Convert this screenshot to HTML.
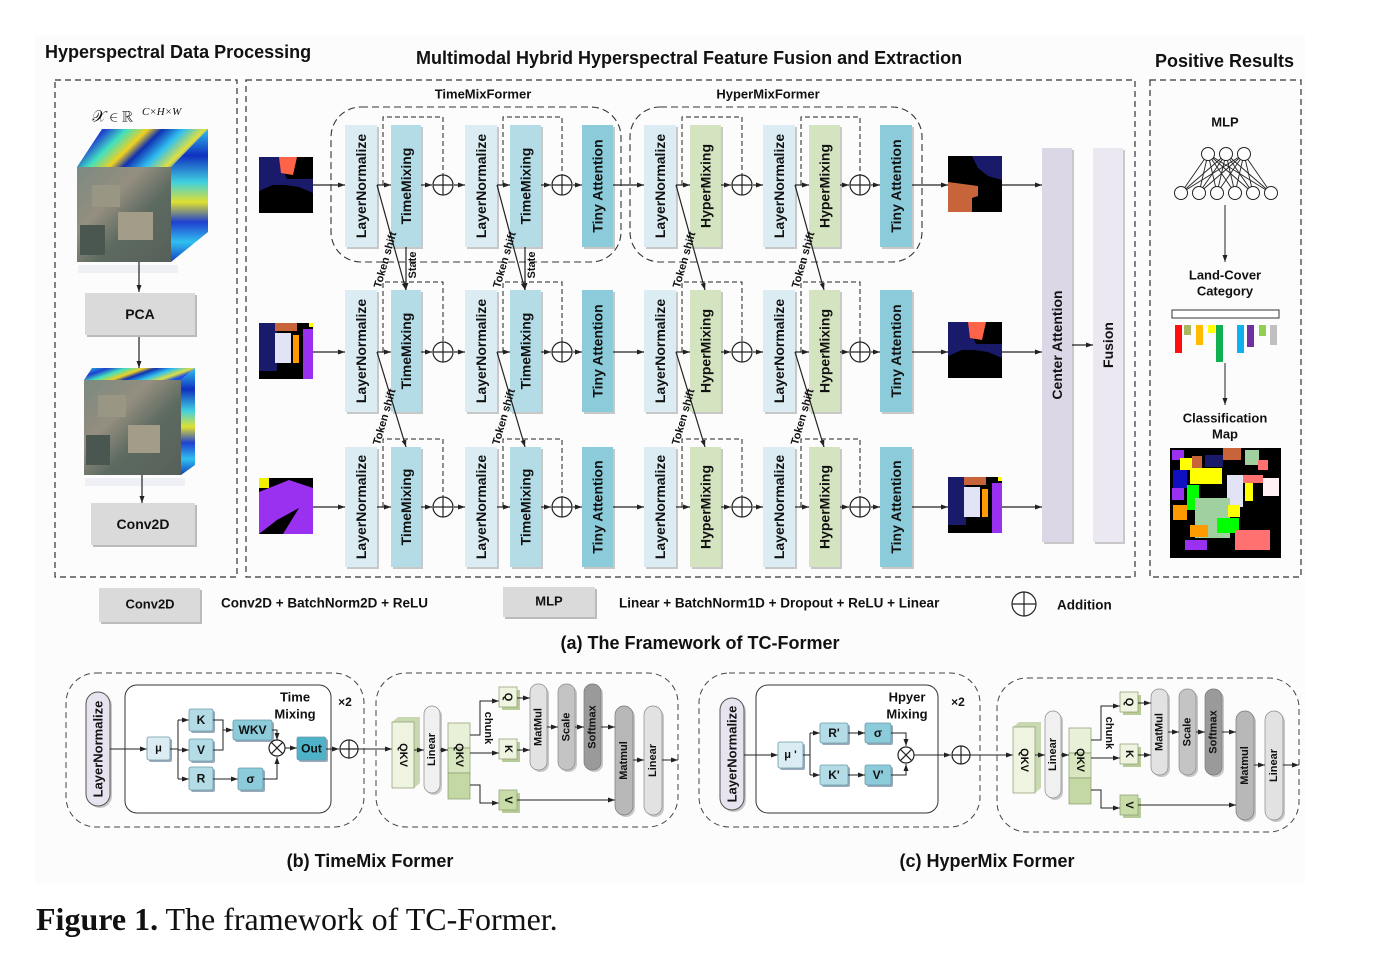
<!DOCTYPE html>
<html><head><meta charset="utf-8"><style>
html,body{margin:0;padding:0;background:#fff}
svg{display:block}
text{font-family:"Liberation Sans",Arial,sans-serif;fill:#111}
text.serif{font-family:"Liberation Serif",serif}
</style></head><body>
<svg id="s" width="1391" height="968" viewBox="0 0 1391 968" xmlns="http://www.w3.org/2000/svg">
<defs>
<marker id="ar" markerWidth="8" markerHeight="8" refX="7" refY="4" orient="auto" markerUnits="userSpaceOnUse"><path d="M0,1.5 L7,4 L0,6.5 z" fill="#222"/></marker>
<linearGradient id="rain" x1="0" y1="0" x2="1" y2="0.3">
<stop offset="0" stop-color="#1fd0e0"/><stop offset="0.2" stop-color="#2040d0"/><stop offset="0.35" stop-color="#40e0c0"/><stop offset="0.5" stop-color="#f0d020"/><stop offset="0.6" stop-color="#1030b0"/><stop offset="0.75" stop-color="#30c0f0"/><stop offset="0.9" stop-color="#e0e040"/><stop offset="1" stop-color="#2050e0"/></linearGradient>
<linearGradient id="rain2" x1="0" y1="0" x2="0" y2="1">
<stop offset="0" stop-color="#30c0f0"/><stop offset="0.2" stop-color="#1030c0"/><stop offset="0.4" stop-color="#40d0e0"/><stop offset="0.55" stop-color="#e0e030"/><stop offset="0.7" stop-color="#2040d0"/><stop offset="0.85" stop-color="#30c0f0"/><stop offset="1" stop-color="#1040c0"/></linearGradient>
<linearGradient id="sat" x1="0" y1="0" x2="1" y2="1">
<stop offset="0" stop-color="#7c8a80"/><stop offset="0.35" stop-color="#948e80"/><stop offset="0.6" stop-color="#5d6a60"/><stop offset="1" stop-color="#56605a"/></linearGradient>
</defs>
<rect x="0" y="0" width="1391" height="968" fill="#fff"/>
<rect x="35" y="35" width="1270" height="848" fill="#fcfcfc"/>
</svg>
<script>
const S=document.getElementById('s');
const NS='http://www.w3.org/2000/svg';
function mk(tag,attrs,name,parent){const e=document.createElementNS(NS,tag);for(const k in attrs)e.setAttribute(k,attrs[k]);


(parent||S).appendChild(e);return e;}
function R(x,y,w,h,fill,name,o){o=o||{};return mk('rect',{x:x,y:y,width:w,height:h,fill:fill,rx:o.rx||0,stroke:o.stroke||'none','stroke-width':o.sw||1,'stroke-dasharray':o.dash||''},name);}
function T(x,y,t,size,name,o){o=o||{};const a={x:x,y:y,'font-size':size,'font-weight':o.w||'bold','text-anchor':o.a||'middle','dominant-baseline':'central'};
if(o.rot)a.transform='rotate('+o.rot+' '+x+' '+y+')';if(o.cls)a['class']=o.cls;if(o.style)a['font-style']=o.style;
const e=mk('text',a,name);e.textContent=t;return e;}
function L(pts,name,o){o=o||{};const a={points:pts.map(p=>p.join(',')).join(' '),fill:'none',stroke:o.c||'#222','stroke-width':o.sw||1.2};
if(o.dash)a['stroke-dasharray']=o.dash;if(o.arrow)a['marker-end']='url(#ar)';return mk('polyline',a,name);}
function P(d,fill,name,o){o=o||{};return mk('path',{d:d,fill:fill,stroke:o.stroke||'none','stroke-width':o.sw||1},name);}
function plus(cx,cy,r,name){mk('circle',{cx:cx,cy:cy,r:r,fill:'#fff',stroke:'#222','stroke-width':1.2},name);
L([[cx-r,cy],[cx+r,cy]],name+'-h');L([[cx,cy-r],[cx,cy+r]],name+'-v');}
function times(cx,cy,r,name){mk('circle',{cx:cx,cy:cy,r:r,fill:'#fff',stroke:'#222','stroke-width':1.2},name);
const d=r*0.707;L([[cx-d,cy-d],[cx+d,cy+d]],name+'-a');L([[cx-d,cy+d],[cx+d,cy-d]],name+'-b');}
function vblock(x,y,w,h,fill,label,name,fs,o){o=o||{};R(x+2,y+2,w,h,'#c8c8c8',name+'-shadow',{rx:o.rx||0});R(x,y,w,h,fill,name,{rx:o.rx||0,stroke:o.stroke,sw:o.sw});
T(x+w/2,y+h/2,label,fs||14,name+'-label',{rot:-90});}
function box(x,y,w,h,fill,label,name,fs){R(x+2,y+2,w,h,'#9ab',name+'-shadow',{rx:2});R(x,y,w,h,fill,name,{rx:2,stroke:'#6a9aa8',sw:0.8});T(x+w/2,y+h/2,label,fs||12,name+'-label');}

/* ---------- Titles ---------- */
T(45,52,'Hyperspectral Data Processing',18,'left-section-title',{a:'start'});
T(416,58,'Multimodal Hybrid Hyperspectral Feature Fusion and Extraction',18,'middle-section-title',{a:'start'});
T(1155,61,'Positive Results',18,'right-section-title',{a:'start'});

/* ---------- Dashed panels ---------- */
R(55,80,182,497,'none','left-panel-border',{stroke:'#333',sw:1.2,dash:'6,4'});
R(246,80,889,497,'none','middle-panel-border',{stroke:'#333',sw:1.2,dash:'6,4'});
R(1150,80,151,497,'none','right-panel-border',{stroke:'#333',sw:1.2,dash:'6,4'});

/* ---------- Left panel: cubes ---------- */
T(92,117,'𝒳 ∈ ℝ',16,'input-formula',{w:'normal',cls:'serif',a:'start'});
T(142,112,'C×H×W',11,'input-formula-exponent',{w:'normal',cls:'serif',style:'italic',a:'start'});
P('M77,167 L102,129 L208,129 L171,167 Z','url(#rain)','cube1-top');
P('M171,167 L208,129 L208,232 L171,262 Z','url(#rain2)','cube1-side');
R(77,167,94,95,'url(#sat)','cube1-front');
R(92,185,28,22,'#9a9684','cube1-field-a');R(118,212,35,28,'#a29c88','cube1-field-b');R(80,225,25,30,'#4a5650','cube1-field-c');
R(78,265,100,8,'#eef0f6','cube1-shadow');
L([[139,262],[139,292]],'arrow-cube1-pca',{arrow:true});
R(87,295,110,42,'#bbb','pca-shadow');R(85,293,110,42,'#dadada','pca-box');T(140,314,'PCA',14,'pca-label');
L([[139,337],[139,368]],'arrow-pca-cube2',{arrow:true});
P('M84,380 L92,368 L195,368 L181,380 Z','url(#rain)','cube2-top');
P('M181,380 L195,368 L195,465 L181,475 Z','url(#rain2)','cube2-side');
R(84,380,97,95,'url(#sat)','cube2-front');
R(98,395,28,22,'#9a9684','cube2-field-a');R(128,425,32,28,'#a29c88','cube2-field-b');R(86,435,24,30,'#4a5650','cube2-field-c');
R(85,478,100,8,'#eef0f6','cube2-shadow');
L([[142,475],[142,503]],'arrow-cube2-conv',{arrow:true});
R(93,505,104,42,'#bbb','conv2d-shadow');R(91,503,104,42,'#dadada','conv2d-box');T(143,524,'Conv2D',14,'conv2d-label');

/* ---------- Middle panel ---------- */
T(483,94,'TimeMixFormer',13,'timemixformer-title');
T(768,94,'HyperMixFormer',13,'hypermixformer-title');
R(331,107,290,155,'none','timemix-group-border',{rx:30,stroke:'#333',sw:1.1,dash:'7,4'});
R(630,107,292,155,'none','hypermix-group-border',{rx:30,stroke:'#333',sw:1.1,dash:'7,4'});

const rowTops=[125,290,447];
const rowH=[122,122,120];
const rowCy=[185,352,507];
const blockCols=[
 {x:345,w:32,c:'#dbedf3',t:'LayerNormalize',n:'layernorm-1'},
 {x:391,w:30,c:'#b4dce7',t:'TimeMixing',n:'timemixing-1'},
 {x:465,w:32,c:'#dbedf3',t:'LayerNormalize',n:'layernorm-2'},
 {x:510,w:31,c:'#b4dce7',t:'TimeMixing',n:'timemixing-2'},
 {x:582,w:31,c:'#8ccbd9',t:'Tiny Attention',n:'tiny-attention-1'},
 {x:644,w:32,c:'#dbedf3',t:'LayerNormalize',n:'layernorm-3'},
 {x:690,w:31,c:'#d4e4c0',t:'HyperMixing',n:'hypermixing-1'},
 {x:763,w:32,c:'#dbedf3',t:'LayerNormalize',n:'layernorm-4'},
 {x:809,w:31,c:'#d4e4c0',t:'HyperMixing',n:'hypermixing-2'},
 {x:880,w:32,c:'#8ccbd9',t:'Tiny Attention',n:'tiny-attention-2'}];
const plusX=[443,562,742,860];

function img(x,y,type,name){
 R(x,y,54,56,'#000',name);
 if(type==='A'){P(`M${x},${y} L${x+28},${y} L${x+24},${y+12} L${x+28},${y+22} L${x+54},${y+22} L${x+54},${y+36} L${x+40},${y+30} L${x+26},${y+28} L${x+14},${y+28} L${x},${y+34} Z`,'#1a1a6a',name+'-navy');
  P(`M${x+20},${y} L${x+38},${y} L${x+34},${y+18} L${x+22},${y+16} Z`,'#ff6448',name+'-orange');}
 if(type==='B'){R(x,y,18,48,'#1a1a6a',name+'-navy');R(x+16,y,22,8,'#c8643a',name+'-brown');R(x+16,y+10,16,30,'#e2e4f6',name+'-lavender');R(x+34,y+12,6,28,'#ff9a00',name+'-orange');R(x+44,y+6,10,50,'#9a30f0',name+'-purple');R(x+50,y,4,4,'#ff0',name+'-yellow');}
 if(type==='C'){P(`M${x},${y+14} L${x+30},${y+2} L${x+54},${y+10} L${x+54},${y+56} L${x+24},${y+56} L${x+40},${y+30} L${x+18},${y+42} L${x},${y+56} Z`,'#9a30f0',name+'-purple');R(x,y,10,10,'#f0f000',name+'-yellow');}
 if(type==='D'){P(`M${x+24},${y} L${x+54},${y} L${x+54},${y+24} L${x+40},${y+20} L${x+30},${y+12} Z`,'#1a1a6a',name+'-navy');P(`M${x},${y+26} L${x+30},${y+30} L${x+30},${y+40} L${x+24},${y+42} L${x+24},${y+56} L${x},${y+56} Z`,'#c8643a',name+'-brown');}
}
const inTypes=['A','B','C'],outTypes=['D','A','B'];
const imgTops=[157,323,478];
for(let r=0;r<3;r++){
 const cy=rowCy[r],top=rowTops[r],h=rowH[r];
 img(259,imgTops[r],inTypes[r],'input-patch-row'+(r+1));
 img(948,imgTops[r]-1,outTypes[r],'output-patch-row'+(r+1));
 L([[313,cy],[345,cy]],'flow-in-row'+(r+1),{arrow:true});
 const skips=[[383,443],[503,562],[682,742],[801,860]];
 skips.forEach((s,i)=>{L([[s[0],cy],[s[0],top-8],[s[1],top-8],[s[1],cy-10]],'residual-skip-row'+(r+1)+'-'+(i+1),{dash:'5,3',sw:1});});
 blockCols.forEach(b=>{vblock(b.x,top,b.w,h,b.c,b.t,b.n+'-row'+(r+1),14);});
 const seq=[[377,391],[421,432],[454,465],[497,510],[541,551],[573,582],[613,644],[676,690],[721,731],[753,763],[795,809],[840,849],[871,880],[912,948],[1002,1042]];
 seq.forEach((s,i)=>L([[s[0],cy],[s[1],cy]],'flow-row'+(r+1)+'-'+(i+1),{arrow:true}));
 plusX.forEach((px,i)=>plus(px,cy,10,'addition-row'+(r+1)+'-'+(i+1)));
 if(r<2){
  const nt=rowTops[r+1];
  [[377,406],[497,525],[676,705],[795,824]].forEach((p,i)=>{
   L([[p[0],cy],[p[1],nt]],'token-shift-arrow-row'+(r+1)+'-'+(i+1),{arrow:true});
   const yy=nt-30;const lx=p[0]+(p[1]-p[0])*(yy-cy)/(nt-cy);
   T(lx-12,yy,'Token shift',11,'token-shift-label-row'+(r+1)+'-'+(i+1),{rot:-74});
  });
  if(r===0){[[406],[525]].forEach((p,i)=>{L([[p[0],top+h],[p[0],nt]],'state-arrow-'+(i+1),{arrow:true});T(p[0]+7,top+h+18,'State',11,'state-label-'+(i+1),{rot:-90});});}
 }
}
vblock(1042,148,30,394,'#dcd7e7','Center Attention',"center-attention",14);
vblock(1093,148,30,394,'#ebe8f1','Fusion',"fusion",14);
L([[1072,345],[1093,345]],'flow-center-fusion',{arrow:true});

/* ---------- Right panel ---------- */
T(1225,122,'MLP',13,'mlp-title');
const topN=[1208,1226,1244],botN=[1181,1199,1217,1235,1253,1271];
topN.forEach((a,i)=>botN.forEach((b,j)=>L([[a,154],[b,193]],'mlp-edge-'+i+'-'+j,{sw:0.9})));
topN.forEach((a,i)=>mk('circle',{cx:a,cy:154,r:6.5,fill:'#fff',stroke:'#222','stroke-width':1},'mlp-node-top-'+(i+1)));
botN.forEach((a,i)=>mk('circle',{cx:a,cy:193,r:6.5,fill:'#fff',stroke:'#222','stroke-width':1},'mlp-node-bottom-'+(i+1)));
L([[1225,205],[1225,262]],'arrow-mlp-category',{arrow:true,sw:1});
T(1225,275,'Land-Cover',13,'land-cover-label');T(1225,291,'Category',13,'category-label');
R(1172,310,107,8,'#fff','category-bar',{stroke:'#333'});
const catX=[1175,1184,1196,1208,1216,1237,1247,1259,1270];
const catH=[28,10,20,8,37,28,22,11,20];
const catC=['#ff1010','#a8b860','#ffbb00','#ffff00','#10b050','#10b0f0','#7030a0','#90d050','#c0c0c0'];
catX.forEach((x,i)=>R(x,325,7,catH[i],catC[i],'category-bar-'+(i+1)));
L([[1225,363],[1225,405]],'arrow-category-map',{arrow:true,sw:1});
T(1225,418,'Classification',13,'classification-label');T(1225,434,'Map',13,'map-label');
R(1170,448,111,110,'#000','classification-map');
[[1172,450,12,10,'#9a30f0'],[1180,458,14,12,'#ffff00'],[1192,456,10,12,'#c8643a'],[1205,455,18,12,'#1a1a6a'],[1223,448,18,12,'#c8643a'],[1245,450,14,15,'#a0d0a0'],[1258,460,10,10,'#ff7070'],[1173,470,14,18,'#1010c0'],[1190,468,32,16,'#ffff00'],[1227,475,16,32,'#e2e4f6'],[1243,475,20,8,'#ff7070'],[1263,478,16,18,'#fff0f4'],[1172,488,12,12,'#9a30f0'],[1173,505,14,15,'#ff9a00'],[1187,485,12,25,'#00ff00'],[1195,498,35,40,'#a0d0a0'],[1228,505,12,12,'#ffff00'],[1217,518,22,15,'#00ff00'],[1185,540,22,10,'#9a30f0'],[1235,530,35,20,'#ff7070'],[1245,483,8,18,'#ffff00'],[1190,525,18,12,'#ff9a00']].forEach((p,i)=>R(p[0],p[1],p[2],p[3],p[4],'map-region-'+(i+1)));

/* ---------- Legend ---------- */
R(101,590,101,34,'#bbb','legend-conv2d-shadow');R(99,588,101,34,'#dadada','legend-conv2d-box');T(150,604,'Conv2D',13,'legend-conv2d-label');
T(221,603,'Conv2D + BatchNorm2D + ReLU',13.5,'legend-conv2d-desc',{a:'start'});
R(505,589,92,30,'#bbb','legend-mlp-shadow');R(503,587,92,30,'#dadada','legend-mlp-box');T(549,601,'MLP',13,'legend-mlp-label');
T(619,603,'Linear + BatchNorm1D + Dropout + ReLU + Linear',13.5,'legend-mlp-desc',{a:'start'});
plus(1024,604,12,'legend-addition-symbol');
T(1057,605,'Addition',13.5,'legend-addition-label',{a:'start'});
T(700,643,'(a) The Framework of TC-Former',18,'caption-a');

/* ---------- attention sub-panel ---------- */
function attnPanel(ox,oy,pfx){
 R(ox,673+oy,302,154,'none',pfx+'-attention-border',{rx:30,stroke:'#444',dash:'6,4'});
 const b=ox+16,y=oy;
 P(`M${b},${722+y} l6,-5 l22,0 l0,66 l-6,5 z`,'#c8d8b0',pfx+'-qkv-3d');R(b,722+y,22,66,'#eef4e0',pfx+'-qkv-block',{stroke:'#8a9a70',sw:0.7});T(b+11,755+y,'QKV',11,pfx+'-qkv-label',{rot:90});
 vblock(b+32,706+y,16,87,'#f0f0f0','Linear',pfx+'-linear-1',11,{rx:8,stroke:'#888',sw:0.7});
 R(b+56,723+y,22,25,'#e8f0d8',pfx+'-qkv-split-q',{stroke:'#8a9a70',sw:0.7});R(b+56,748+y,22,25,'#d8e6c0',pfx+'-qkv-split-k',{stroke:'#8a9a70',sw:0.7});R(b+56,773+y,22,26,'#c4d8a4',pfx+'-qkv-split-v',{stroke:'#8a9a70',sw:0.7});
 T(b+67,755+y,'QKV',11,pfx+'-qkv-split-label',{rot:90});
 L([[b+22,750+y],[b+32,750+y]],pfx+'-a1',{arrow:true,sw:1});L([[b+48,750+y],[b+56,750+y]],pfx+'-a2',{arrow:true,sw:1});
 L([[b+78,735+y],[b+88,735+y],[b+88,701+y],[b+107,701+y]],pfx+'-to-q',{arrow:true,sw:1});
 L([[b+78,753+y],[b+107,753+y]],pfx+'-to-k',{arrow:true,sw:1});
 L([[b+78,785+y],[b+88,785+y],[b+88,803+y],[b+107,803+y]],pfx+'-to-v',{arrow:true,sw:1});
 T(b+96,728+y,'chunk',11,pfx+'-chunk-label',{rot:90});
 [['Q',690],['K',742],['V',793]].forEach(q=>{R(b+110,q[1]+y,18,20,'#b8cc98',pfx+'-'+q[0]+'-depth');R(b+107,q[1]-3+y,18,20,q[0]==='V'?'#c8dca8':'#eef4e0',pfx+'-'+q[0]+'-box',{stroke:'#8a9a70',sw:0.7});T(b+116,q[1]+7+y,q[0],11,pfx+'-'+q[0]+'-label',{rot:90});});
 vblock(b+138,684+y,17,86,'#e2e2e2','MatMul',pfx+'-matmul-1',11,{rx:8,stroke:'#888',sw:0.7});
 vblock(b+166,684+y,17,86,'#c4c4c4','Scale',pfx+'-scale',11,{rx:8,stroke:'#888',sw:0.7});
 vblock(b+192,684+y,17,86,'#9a9a9a','Softmax',pfx+'-softmax',11,{rx:8,stroke:'#777',sw:0.7});
 vblock(b+223,706+y,18,109,'#b8b8b8','Matmul',pfx+'-matmul-2',11,{rx:9,stroke:'#777',sw:0.7});
 vblock(b+252,706+y,18,109,'#e2e2e2','Linear',pfx+'-linear-2',11,{rx:9,stroke:'#888',sw:0.7});
 L([[b+125,698+y],[b+138,698+y]],pfx+'-q-mm',{arrow:true,sw:1});L([[b+125,750+y],[b+138,750+y]],pfx+'-k-mm',{arrow:true,sw:1});
 L([[b+155,727+y],[b+166,727+y]],pfx+'-mm-sc',{arrow:true,sw:1});L([[b+183,727+y],[b+192,727+y]],pfx+'-sc-sm',{arrow:true,sw:1});
 L([[b+209,727+y],[b+223,727+y]],pfx+'-sm-mm',{arrow:true,sw:1});L([[b+125,800+y],[b+223,800+y]],pfx+'-v-mm',{arrow:true,sw:1});
 L([[b+241,760+y],[b+252,760+y]],pfx+'-mm-lin',{arrow:true,sw:1});L([[b+270,760+y],[b+286,760+y]],pfx+'-out',{arrow:true,sw:1});
}
/* ---------- (b) TimeMix Former ---------- */
R(66,673,298,154,'none','timemix-former-border',{rx:30,stroke:'#444',dash:'6,4'});
vblock(86,692,24,114,'#e8e4ef','LayerNormalize','b-layernormalize',13,{rx:12,stroke:'#555',sw:1});
R(125,685,206,128,'#fff','time-mixing-box',{rx:12,stroke:'#333'});
T(295,697,'Time',13,'time-mixing-title-1');T(295,714,'Mixing',13,'time-mixing-title-2');T(345,702,'×2',12,'b-times-two');
L([[110,749],[147,749]],'b-ln-mu',{arrow:true,sw:1});
box(147,737,23,23,'#dbedf3','μ','b-mu-box',11);
L([[170,749],[178,749]],'b-mu-out',{sw:1});L([[178,720],[178,779]],'b-mu-branch',{sw:1});
L([[178,720],[189,720]],'b-to-k',{arrow:true,sw:1});L([[178,750],[189,750]],'b-to-v',{arrow:true,sw:1});L([[178,779],[189,779]],'b-to-r',{arrow:true,sw:1});
box(189,709,24,22,'#b4dce7','K','b-k-box');box(189,739,24,22,'#b4dce7','V','b-v-box');box(189,767,24,23,'#b4dce7','R','b-r-box');
L([[213,720],[223,720],[223,750],[213,750]],'b-kv-join',{sw:1});L([[223,730],[233,730]],'b-to-wkv',{arrow:true,sw:1});
box(233,720,39,20,'#8ccbd9','WKV','b-wkv-box');
L([[272,730],[277,730],[277,740]],'b-wkv-mul',{arrow:true,sw:1});
L([[213,779],[238,779]],'b-r-sigma',{arrow:true,sw:1});box(238,768,25,22,'#8ccbd9','σ','b-sigma-box');
L([[263,779],[277,779],[277,757]],'b-sigma-mul',{arrow:true,sw:1});
times(277,748,8,'b-multiply');L([[285,748],[297,748]],'b-mul-out',{arrow:true,sw:1});
box(297,737,29,23,'#4eb2c8','Out','b-out-box');
L([[326,749],[339,749]],'b-out-add',{arrow:true,sw:1});plus(349,749,9,'b-addition');L([[358,749],[392,749]],'b-to-attn',{arrow:true,sw:1});
attnPanel(376,0,'b');
T(370,861,'(b) TimeMix Former',18,'caption-b');

/* ---------- (c) HyperMix Former ---------- */
R(699,673,281,154,'none','hypermix-former-border',{rx:30,stroke:'#444',dash:'6,4'});
vblock(720,698,24,112,'#e8e4ef','LayerNormalize','c-layernormalize',13,{rx:12,stroke:'#555',sw:1});
R(756,685,182,128,'#fff','hyper-mixing-box',{rx:12,stroke:'#333'});
T(907,697,'Hpyer',13,'hyper-mixing-title-1');T(907,714,'Mixing',13,'hyper-mixing-title-2');T(958,702,'×2',12,'c-times-two');
L([[744,755],[778,755]],'c-ln-mu',{arrow:true,sw:1});
box(778,742,25,26,'#dbedf3',"μ '",'c-mu-box',11);
L([[803,755],[810,755]],'c-mu-out',{sw:1});L([[810,733],[810,775]],'c-branch',{sw:1});
L([[810,733],[820,733]],'c-to-r',{arrow:true,sw:1});L([[810,775],[820,775]],'c-to-k',{arrow:true,sw:1});
box(820,723,28,20,'#b4dce7',"R'",'c-r-box');box(865,723,26,20,'#8ccbd9','σ','c-sigma-box');
box(820,765,28,20,'#b4dce7',"K'",'c-k-box');box(865,765,26,20,'#8ccbd9',"V'",'c-v-box');
L([[848,733],[865,733]],'c-r-sigma',{arrow:true,sw:1});L([[848,775],[865,775]],'c-k-v',{arrow:true,sw:1});
L([[891,733],[906,733],[906,746]],'c-sigma-mul',{arrow:true,sw:1});L([[891,775],[906,775],[906,764]],'c-v-mul',{arrow:true,sw:1});
times(906,755,8,'c-multiply');L([[914,755],[951,755]],'c-mul-add',{arrow:true,sw:1});
plus(961,755,9,'c-addition');L([[970,755],[1013,755]],'c-to-attn',{arrow:true,sw:1});
attnPanel(997,5,'c');
T(987,861,'(c) HyperMix Former',18,'caption-c');

/* ---------- Figure caption ---------- */
const fc=mk('text',{x:36,y:930,'font-size':32,'class':'serif'},'figure-caption');
const b1=document.createElementNS(NS,'tspan');b1.setAttribute('font-weight','bold');b1.textContent='Figure 1.';


fc.appendChild(b1);
const t2=document.createElementNS(NS,'tspan');t2.textContent=' The framework of TC-Former.';


fc.appendChild(t2);
</script>
</body></html>
